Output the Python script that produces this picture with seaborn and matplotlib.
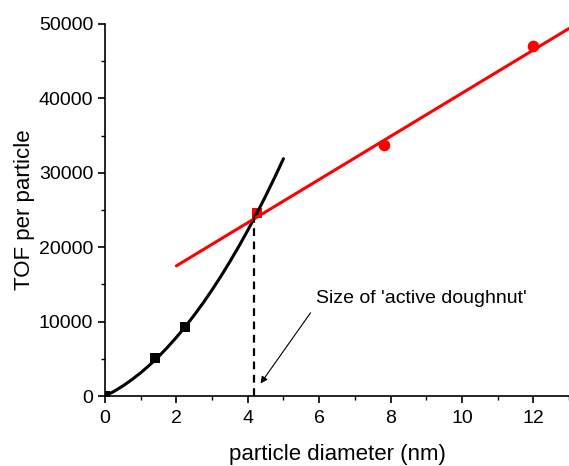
import numpy as np
import pandas as pd
import matplotlib
matplotlib.use("Agg")
import matplotlib.pyplot as plt
from matplotlib.ticker import MultipleLocator
import seaborn as sns

# data
small_d = [0.0, 1.4, 2.24]
small_tof = [0, 5100, 9270]
mid_d = [4.25]
mid_tof = [24600]
large_d = [7.83, 12.0]
large_tof = [33700, 47000]

curve_d = [0.0, 0.25, 0.5, 0.75, 1.0, 1.25, 1.5, 1.75, 2.0, 2.25, 2.5,
           2.75, 3.0, 3.25, 3.5, 3.75, 4.0, 4.25, 4.5, 4.75, 5.0]
curve_tof = [0, 630, 1360, 2200, 3130, 4170, 5300, 6550, 7890, 9330, 10880,
             12520, 14270, 16120, 18070, 20120, 22270, 24530, 26880, 29340, 31900]

line_d = [2.0, 13.0]
line_tof = [17500, 49400]

cross_d = [4.17, 4.17]
cross_tof = [0, 24000]

sns.set_style("ticks")
plt.rcParams['font.family'] = ['Liberation Sans', 'DejaVu Sans']
plt.rcParams['text.color'] = 'black'
plt.rcParams['axes.labelcolor'] = 'black'
plt.rcParams['xtick.color'] = 'black'
plt.rcParams['ytick.color'] = 'black'

fig = plt.figure(figsize=(5.69, 4.66), dpi=100)
ax = fig.add_axes([0.1845, 0.15, 0.8155, 0.7985])

sns.lineplot(x=curve_d, y=curve_tof, ax=ax, color="black", lw=2.2, sort=False)
sns.lineplot(x=line_d, y=line_tof, ax=ax, color="#ff0000", lw=2.2, sort=False)
ax.plot(cross_d, cross_tof, color="black", lw=1.6, linestyle=(0, (3.5, 2.5)))
sns.scatterplot(x=small_d, y=small_tof, ax=ax, color="black", marker="s", s=55,
                edgecolor="black", linewidth=0, zorder=5)
sns.scatterplot(x=mid_d, y=mid_tof, ax=ax, color="#ff0000", marker="s", s=55,
                edgecolor="#ff0000", linewidth=0, zorder=1)
sns.scatterplot(x=large_d, y=large_tof, ax=ax, color="#ff0000", marker="o", s=70,
                edgecolor="#ff0000", linewidth=0, zorder=5)

ax.text(5.9, 12500, "Size of 'active doughnut'", fontsize=14, ha="left",
        va="baseline", color="black")
ax.annotate("", xy=(4.36, 1700), xytext=(5.76, 11200),
            arrowprops=dict(arrowstyle="-|>", color="black", lw=0.8,
                            mutation_scale=10, shrinkA=0, shrinkB=0))

ax.set_xlim(0, 13)
ax.set_ylim(0, 50000)
ax.xaxis.set_major_locator(MultipleLocator(2))
ax.xaxis.set_minor_locator(MultipleLocator(1))
ax.yaxis.set_major_locator(MultipleLocator(10000))
ax.yaxis.set_minor_locator(MultipleLocator(5000))
ax.tick_params(which="major", direction="out", length=5, width=1.2, labelsize=14,
               colors="black")
ax.tick_params(axis="x", which="major", pad=5)
ax.tick_params(which="minor", direction="out", length=3, width=1.0, colors="black")
ax.set_xlabel("particle diameter (nm)", fontsize=16, labelpad=12, color="black")
ax.set_ylabel("TOF per particle", fontsize=16, labelpad=2.5, color="black")
for s in ["top", "right"]:
    ax.spines[s].set_visible(False)
for s in ["left", "bottom"]:
    ax.spines[s].set_linewidth(1.2)
    ax.spines[s].set_color("black")

fig.savefig("out.png", dpi=100)
